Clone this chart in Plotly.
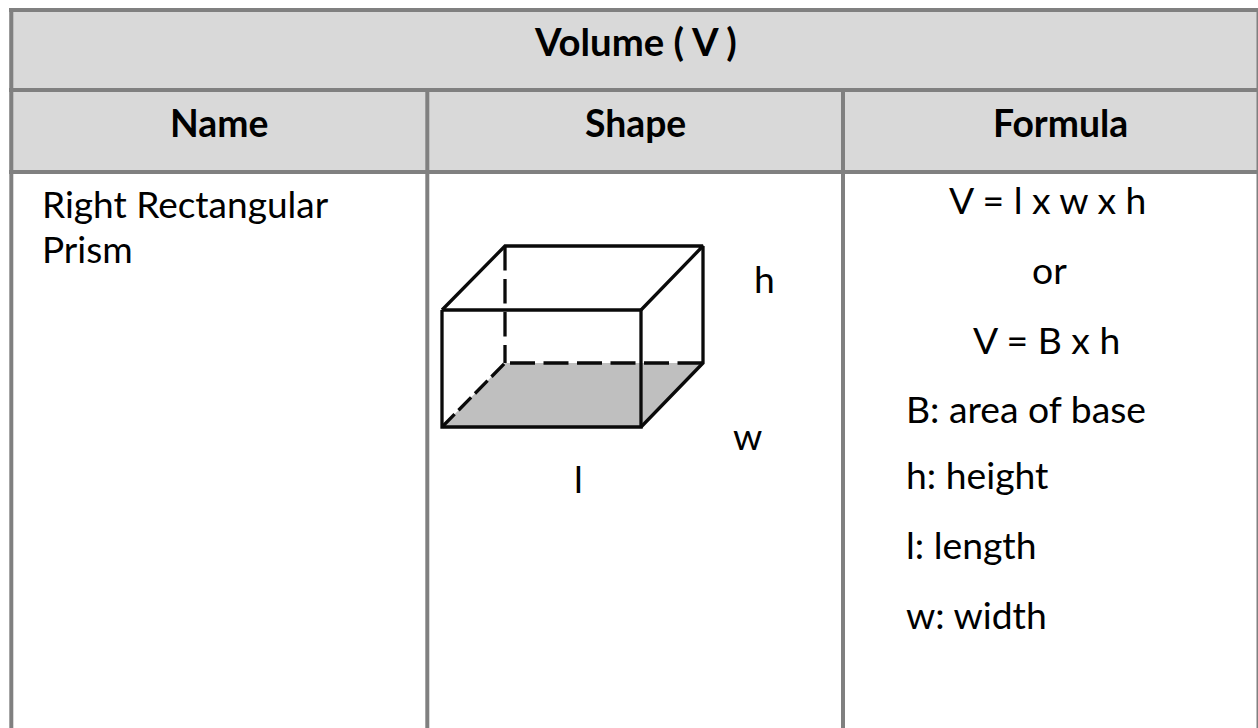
import plotly.graph_objects as go

W, H = 1258, 728
FONT = "Lato"
title = "Volume ( V )"
headers = ["Name", "Shape", "Formula"]
header_x = [219, 635, 1060]
name_lines = ["Right Rectangular", "Prism"]
name_y = [203, 248]
formula_center = [("V = l x w x h", 1047.5, 199), ("or", 1049.5, 269), ("V = B x h", 1046.5, 339)]
formula_left = [("B: area of base", 904, 408), ("h: height", 904, 474), ("l: length", 904, 544), ("w: width", 904, 614)]
dim_labels = [("h", 764, 278), ("w", 747.5, 435), ("l", 578, 478)]

# table grid
grid_h = [(9, 1258, 10), (9, 1258, 90), (9, 1258, 172)]
grid_v = [(11.3, 8, 728), (427.3, 90, 728), (843, 90, 728), (1258, 8, 728)]

# prism corners
fx0, fx1, fy0, fy1 = 442, 641, 310, 427
bx0, bx1, by0, by1 = 505, 703, 246, 363

fig = go.Figure()
GRID = "#808080"
HEAD = "#d9d9d9"
INK = "#0a0a0a"

fig.add_shape(type="rect", x0=9, x1=1258, y0=10, y1=172, fillcolor=HEAD, line_width=0, layer="below")
# base
fig.add_trace(go.Scatter(x=[fx0, fx1, bx1, bx0, fx0], y=[fy1, fy1, by1, by1, fy1], mode="lines", fill="toself",
                         fillcolor="#bfbfbf", line=dict(width=0), hoverinfo="skip"))


def seg(xs, ys, dash="solid", w=3.3):
    fig.add_trace(go.Scatter(x=xs, y=ys, mode="lines", line=dict(color=INK, width=w, dash=dash), hoverinfo="skip"))


# hidden edges
seg([bx0, bx0], [by0, by1], dash="24.5px,8.5px")
seg([bx0 + 5, bx1], [by1, by1], dash="25px,8.5px")
seg([fx0, bx0], [fy1, by1], dash="18px,5.5px")
# visible edges
seg([fx0, fx1, fx1, fx0, fx0], [fy0, fy0, fy1, fy1, fy0])
seg([fx0, bx0, bx1, fx1], [fy0, by0, by0, fy0])
seg([bx1, bx1, fx1], [by0, by1, fy1])

for x0, x1, y in grid_h:
    fig.add_trace(go.Scatter(x=[x0, x1], y=[y, y], mode="lines", line=dict(color=GRID, width=4), hoverinfo="skip"))
for x, y0, y1 in grid_v:
    fig.add_trace(go.Scatter(x=[x, x], y=[y0, y1], mode="lines", line=dict(color=GRID, width=3 if x == W else 4),
                             hoverinfo="skip"))


def text(s, x, y, anchor="center", bold=False, size=37.3):
    label = f"<b>{s}</b>" if bold else s
    fig.add_annotation(x=x, y=y, text=label, showarrow=False, xanchor=anchor, yanchor="middle",
                       font=dict(family=FONT, size=size, color="#000000"))


text(title, 635, 41, bold=True, size=38.3)
for h, x in zip(headers, header_x):
    text(h, x, 122, bold=True)
for s, y in zip(name_lines, name_y):
    text(s, 40, y, anchor="left", size=37)
for s, x, y in formula_center:
    text(s, x, y)
for s, x, y in formula_left:
    text(s, x, y, anchor="left")
for s, x, y in dim_labels:
    text(s, x, y)

fig.update_layout(width=W, height=H, margin=dict(l=0, r=0, t=0, b=0), showlegend=False,
                  paper_bgcolor="white", plot_bgcolor="white",
                  xaxis=dict(range=[0, W], visible=False, fixedrange=True),
                  yaxis=dict(range=[H, 0], visible=False, fixedrange=True))
fig.write_html("out.html", config={"displayModeBar": False},
               post_script="document.body.style.margin='0';document.body.style.overflow='hidden';")
